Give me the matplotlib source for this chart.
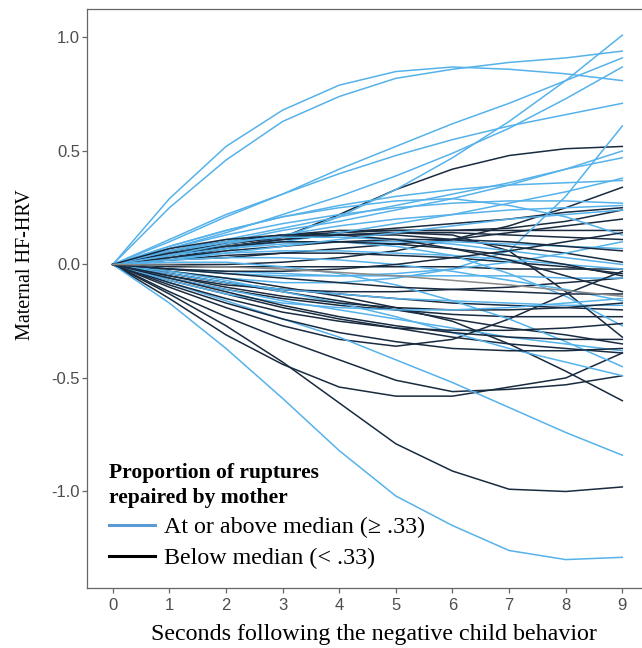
import matplotlib

matplotlib.use("Agg")
import matplotlib.pyplot as plt
from matplotlib.lines import Line2D

# seconds after the negative child behaviour
seconds = [0, 1, 2, 3, 4, 5, 6, 7, 8, 9]

# mothers at or above the median proportion of repaired ruptures
above_median = [
    [0, .29, .52, .68, .79, .85, .87, .86, .84, .81],
    [0, .25, .46, .63, .74, .82, .86, .89, .91, .94],
    [0, .02, .06, .12, .21, .33, .47, .63, .81, 1.01],
    [0, .10, .21, .31, .42, .52, .62, .71, .81, .91],
    [0, .07, .14, .22, .30, .39, .49, .60, .73, .87],
    [0, .11, .22, .31, .40, .48, .55, .61, .66, .71],
    [0, -.03, -.06, -.08, -.08, -.06, -.02, .06, .30, .61],
    [0, .05, .10, .15, .19, .24, .29, .35, .42, .50],
    [0, .06, .11, .16, .21, .26, .31, .36, .42, .47],
    [0, .08, .15, .21, .26, .30, .33, .35, .36, .37],
    [0, .04, .07, .10, .14, .18, .22, .27, .32, .38],
    [0, .07, .13, .18, .22, .25, .27, .28, .28, .27],
    [0, .08, .15, .21, .25, .28, .29, .26, .21, .13],
    [0, -.02, -.04, -.05, -.05, -.04, -.02, .01, .05, .10],
    [0, .04, .07, .09, .10, .10, .10, .09, .08, .07],
    [0, .03, .05, .06, .06, .05, .04, .02, .00, -.02],
    [0, -.02, -.03, -.04, -.05, -.05, -.05, -.05, -.06, -.06],
    [0, .02, .03, .03, .02, .00, -.03, -.07, -.11, -.16],
    [0, -.04, -.08, -.11, -.13, -.15, -.16, -.17, -.18, -.18],
    [0, .05, .08, .10, .10, .08, .04, -.04, -.14, -.27],
    [0, -.06, -.11, -.16, -.20, -.24, -.28, -.32, -.35, -.38],
    [0, .01, .01, -.01, -.04, -.09, -.16, -.24, -.34, -.45],
    [0, -.03, -.07, -.12, -.17, -.23, -.30, -.37, -.43, -.49],
    [0, -.08, -.16, -.24, -.32, -.42, -.52, -.63, -.74, -.84],
    [0, -.17, -.37, -.59, -.82, -1.02, -1.15, -1.26, -1.30, -1.29],
    [0, .06, .10, .12, .12, .11, .09, .06, .03, .00],
    [0, -.07, -.13, -.17, -.19, -.20, -.20, -.19, -.17, -.15],
    [0, .04, .09, .13, .17, .20, .22, .24, .25, .26],
    [0, .02, .05, .08, .11, .14, .17, .20, .22, .24],
]

# mothers below the median
below_median = [
    [0, .03, .07, .12, .22, .33, .42, .48, .51, .52],
    [0, .00, .00, .01, .03, .06, .11, .17, .25, .34],
    [0, .05, .09, .12, .14, .16, .18, .20, .23, .25],
    [0, .06, .10, .13, .15, .15, .15, .16, .19, .24],
    [0, .02, .03, .05, .07, .09, .11, .14, .17, .20],
    [0, .06, .10, .13, .14, .15, .15, .15, .15, .15],
    [0, .04, .08, .11, .13, .14, .14, .13, .12, .11],
    [0, .05, .09, .12, .13, .13, .11, .08, .05, .01],
    [0, -.01, -.01, -.01, -.01, -.01, -.01, -.02, -.02, -.02],
    [0, .02, .04, .05, .05, .04, .03, .01, -.01, -.04],
    [0, -.05, -.09, -.11, -.12, -.12, -.11, -.10, -.08, -.06],
    [0, .04, .08, .11, .13, .14, .13, .06, -.12, -.32],
    [0, -.04, -.08, -.11, -.13, -.15, -.17, -.18, -.19, -.20],
    [0, -.06, -.11, -.15, -.18, -.20, -.22, -.23, -.23, -.23],
    [0, -.04, -.08, -.12, -.16, -.20, -.24, -.28, -.31, -.35],
    [0, -.07, -.13, -.19, -.24, -.28, -.32, -.35, -.37, -.39],
    [0, -.03, -.06, -.10, -.14, -.19, -.25, -.35, -.47, -.60],
    [0, -.13, -.27, -.43, -.61, -.79, -.91, -.99, -1.00, -.98],
    [0, -.15, -.31, -.44, -.54, -.58, -.58, -.54, -.50, -.39],
    [0, -.12, -.23, -.33, -.42, -.51, -.56, -.55, -.53, -.49],
    [0, -.10, -.19, -.27, -.33, -.36, -.33, -.24, -.13, -.03],
    [0, .05, .08, .10, .10, .09, .07, .04, .00, -.05],
    [0, -.02, -.04, -.06, -.08, -.10, -.11, -.12, -.13, -.13],
    [0, .03, .06, .08, .10, .11, .11, .10, .08, .06],
    [0, -.05, -.10, -.14, -.17, -.19, -.20, -.20, -.19, -.17],
    [0, -.08, -.15, -.21, -.25, -.28, -.29, -.29, -.28, -.26],
    [0, -.06, -.12, -.18, -.23, -.27, -.30, -.32, -.33, -.33],
    [0, .07, .11, .13, .13, .11, .07, .02, -.05, -.12],
    [0, -.02, -.03, -.03, -.02, .00, .03, .06, .10, .14],
    [0, -.09, -.17, -.24, -.30, -.34, -.37, -.38, -.38, -.37],
]

# gray reference line
mean_line = [0, -.003, -.01, -.02, -.035, -.05, -.07, -.09, -.115, -.14]

y_ticks = [-1.0, -0.5, 0.0, 0.5, 1.0]

BLUE = "#56b2ea"
NAVY = "#192b40"
GRAY_TXT = "#4d4d4d"
SERIF = ["Liberation Serif", "DejaVu Serif"]

fig = plt.figure(figsize=(6.42, 6.48), dpi=100)
ax = fig.add_axes([0.136, 0.093, 0.873, 0.8926])

# interleave the two groups so neither sits entirely on top
n = max(len(above_median), len(below_median))
for i in range(n):
    if i < len(above_median):
        ax.plot(seconds, above_median[i], color=BLUE, lw=1.1)
    if i < len(below_median):
        ax.plot(seconds, below_median[i], color=NAVY, lw=1.1)
ax.plot(seconds, mean_line, color="#8a8a8a", lw=1.1)

ax.set_xlim(-0.45, 9.45)
ax.set_ylim(-1.424, 1.124)
ax.set_xticks(seconds)
ax.set_yticks(y_ticks)
ax.set_yticklabels([f"{v:.1f}" for v in y_ticks])

for side in ("top", "left", "bottom", "right"):
    ax.spines[side].set_color("#666666")
    ax.spines[side].set_linewidth(0.9)
ax.tick_params(axis="both", colors="#666666", labelcolor=GRAY_TXT,
               labelsize=12, length=3.3, width=0.9)
ax.tick_params(axis="x", pad=4)
ax.tick_params(axis="y", pad=2)
for lab in ax.get_xticklabels() + ax.get_yticklabels():
    lab.set_family(["Liberation Sans", "DejaVu Sans"])

ax.set_xlabel("Seconds following the negative child behavior",
              family=SERIF, fontsize=17.3)
ax.set_ylabel("Maternal HF-HRV", family=SERIF, fontsize=14.5)
ax.xaxis.set_label_coords(0.5115, -0.0626)
ax.yaxis.set_label_coords(-0.0933, 0.559)

handles = [
    Line2D([], [], color="#5b9bd5", lw=2.2),
    Line2D([], [], color="black", lw=2.2),
]
leg = ax.legend(
    handles,
    ["At or above median (\u2265 .33)", "Below median (< .33)"],
    title="Proportion of ruptures\nrepaired by mother",
    loc="upper left",
    bbox_to_anchor=(0.026, 0.228),
    borderaxespad=0,
    borderpad=0.3,
    frameon=False,
    prop={"family": SERIF, "size": 17.3},
    title_fontproperties={"family": SERIF, "size": 15.5, "weight": "bold"},
    handlelength=1.9,
    handletextpad=0.4,
    labelspacing=0.37,
)
leg.get_title().set_linespacing(1.3)
leg._legend_box.align = "left"

fig.savefig("out.png", dpi=100, facecolor="white")
